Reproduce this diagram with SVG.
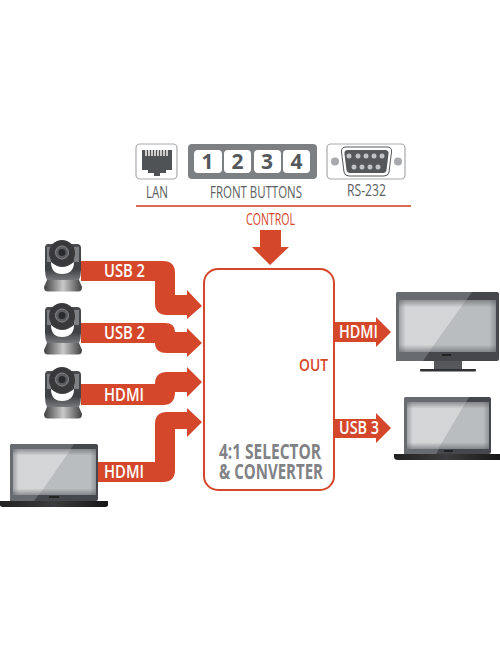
<svg xmlns="http://www.w3.org/2000/svg" width="500" height="650" viewBox="0 0 500 650">
<style>
text{font-family:"Open Sans","Liberation Sans",sans-serif}
.w{fill:#fff;font-size:18px;font-weight:600}
.g{fill:#5c5f62;font-size:17px}
.o{fill:#d4472a}
.tt{fill:#808285;font-size:21px;font-weight:700}
.fr{fill:#fff;stroke:#a7a9ac;stroke-width:1.2}
.b{fill:#fff}
.n{fill:#55585b;font-size:21px;font-weight:700;text-anchor:middle}
.bd{fill:#45474c}
.bl{fill:#686b70}
.sc{fill:#b9bdc0}
.gl{fill:#d3d5d7}
.vv{fill:url(#vv)}
.vh{fill:url(#vh)}
</style>
<defs>
<linearGradient id="vv" x1="0" y1="0" x2="0" y2="1"><stop offset="0" stop-color="#55585c" stop-opacity=".55"/><stop offset=".14" stop-color="#55585c" stop-opacity="0"/><stop offset=".86" stop-color="#55585c" stop-opacity="0"/><stop offset="1" stop-color="#55585c" stop-opacity=".55"/></linearGradient>
<linearGradient id="vh" x1="0" y1="0" x2="1" y2="0"><stop offset="0" stop-color="#55585c" stop-opacity=".4"/><stop offset=".07" stop-color="#55585c" stop-opacity="0"/><stop offset=".93" stop-color="#55585c" stop-opacity="0"/><stop offset="1" stop-color="#55585c" stop-opacity=".4"/></linearGradient>
<linearGradient id="kb" x1="0" y1="0" x2="1" y2="0"><stop offset="0" stop-color="#222"/><stop offset=".5" stop-color="#3c3c3e"/><stop offset="1" stop-color="#161616"/></linearGradient>
<linearGradient id="cb" x1="0" y1="0" x2="1" y2="0"><stop offset="0" stop-color="#3f3f41"/><stop offset=".5" stop-color="#c9c9c9"/><stop offset="1" stop-color="#3f3f41"/></linearGradient>
<linearGradient id="cy" x1="0" y1="0" x2="0" y2="1"><stop offset="0" stop-color="#4a4b4e"/><stop offset=".7" stop-color="#3f4043"/><stop offset="1" stop-color="#77787b"/></linearGradient>
<g id="cam">
<path d="M47 280H79L82 287Q82 291.500 78 291.500H48Q44 291.500 44 287Z" fill="url(#cb)"/>
<path d="M48 244H53V247H71V244H77Q81 244 81 248V270Q81 276 79 280H47Q45 276 45 270V248Q45 244 48 244Z" fill="url(#cy)"/>
<path d="M47 247H51V262H47ZM74 247H79V262H74Z" fill="#7d7f82"/>
<path d="M51 262Q62 272 74 262Q74 274 62 274Q51 274 51 262Z" fill="#fff"/>
<circle cx="62" cy="253" r="13" fill="#39393b"/>
<circle cx="62" cy="252.500" r="6.500" fill="#5b5c5f" stroke="#8a8b8d"/>
<circle cx="62" cy="252.500" r="3.500" fill="#2a2a2c"/>
</g>
</defs>

<g id="connectors" class="o">
<path id="c-control" d="M260 230H281V247H289L270 265L252 247H260Z"/>
<path id="c-usb2a" d="M81 261H163Q175 261 175 273V295H187V290L202 306L187 319V315H167Q155 315 155 303V281H81Z"/>
<path id="c-usb2b" d="M81 323H165Q175 323 175 332H187V328L202 343L187 357V353H167Q155 353 155 343H81Z"/>
<path id="c-hdmi3" d="M81 384H155Q155 372 167 372H187V367L202 382L187 397V392H175Q175 405 163 405H81Z"/>
<path id="c-hdmi4" d="M97 462H155V424Q155 412 167 412H187V408L202 422L187 437V429H175V470Q175 482 163 482H97Z"/>
<path id="c-out1" d="M334 322H376V317L391 332L376 347V342H334Z"/>
<path id="c-out2" d="M334 419H376V413L391 428L376 443V438H334Z"/>
</g>

<g id="control-rule"><rect x="136" y="205.200" width="275" height="1.600" class="o"/><text x="246" y="225" class="o" style="font-size:16px" textLength="49" lengthAdjust="spacingAndGlyphs">CONTROL</text></g>

<g id="lan">
<rect x="136" y="144" width="41" height="35" rx="4" class="fr"/>
<path d="M142 150H172V170H166V173H160V176H154V173H148V170H142Z" fill="#505356"/>
<path d="M146 150v6M149 150v6M152 150v6M155 150v6M158 150v6M161 150v6M164 150v6M167 150v6" stroke="#fff" stroke-width="1.400"/>
<text x="146" y="198" class="g" textLength="22" lengthAdjust="spacingAndGlyphs">LAN</text>
</g>

<g id="front-buttons">
<rect x="188" y="144" width="129" height="35" rx="4" fill="#7d8083"/>
<rect x="194" y="150" width="28" height="23" rx="4" class="b"/>
<rect x="224" y="150" width="27" height="23" rx="4" class="b"/>
<rect x="254" y="150" width="27" height="23" rx="4" class="b"/>
<rect x="283" y="150" width="27" height="23" rx="4" class="b"/>
<text x="207.500" y="169" class="n">1</text><text x="237.500" y="169" class="n">2</text><text x="267" y="169" class="n">3</text><text x="296.500" y="169" class="n">4</text>
<text x="210" y="198" class="g" textLength="92" lengthAdjust="spacingAndGlyphs">FRONT BUTTONS</text>
</g>

<g id="rs232">
<rect x="327" y="144" width="78" height="35" rx="4" class="fr"/>
<circle cx="335" cy="161.500" r="4" fill="#a7a9ac"/><circle cx="398" cy="161.500" r="4" fill="#a7a9ac"/>
<path d="M346 147H387Q392 147 391.500 152L389 172Q388.500 176 384 176H349Q344.500 176 344 172L341.500 152Q341 147 346 147Z" fill="#fff" stroke="#55585b"/>
<path d="M348 150H385Q389 150 388.500 154L386.500 170Q386 173 383 173H350Q347 173 346.500 170L344.500 154Q344 150 348 150Z" fill="#55585b"/>
<g fill="#c0c2c4"><circle cx="349" cy="156" r="2.500"/><circle cx="358" cy="156" r="2.500"/><circle cx="366" cy="156" r="2.500"/><circle cx="374" cy="156" r="2.500"/><circle cx="382" cy="156" r="2.500"/><circle cx="354" cy="167" r="2.500"/><circle cx="362" cy="167" r="2.500"/><circle cx="370" cy="167" r="2.500"/><circle cx="378" cy="167" r="2.500"/></g>
<text x="347" y="196" class="g" textLength="39" lengthAdjust="spacingAndGlyphs">RS-232</text>
</g>

<g id="camera1"><use href="#cam"/></g>
<g id="camera2"><use href="#cam" y="63"/></g>
<g id="camera3"><use href="#cam" y="127"/></g>

<g id="laptop-in">
<rect x="10" y="444" width="88" height="57" rx="2" class="bd"/>
<path d="M12 444H74L34 501H10V446Z" class="bl"/>
<rect x="13" y="449" width="83" height="46" class="sc"/>
<path d="M13 449H71L39 495H13Z" class="gl"/>
<rect x="13" y="449" width="83" height="46" class="vv"/>
<rect x="13" y="449" width="83" height="46" class="vh"/>
<rect x="49" y="496" width="10" height="2" fill="#222"/>
<path d="M0 501H108V505Q108 507 104 507H4Q0 507 0 505Z" fill="url(#kb)"/>
</g>

<g id="selector">
<rect x="204" y="269" width="130" height="221" rx="14" fill="#fff" stroke="#d4472a" stroke-width="2"/>
<text class="tt"><tspan x="219" y="459" textLength="102" lengthAdjust="spacingAndGlyphs">4:1 SELECTOR</tspan><tspan x="219" y="479" textLength="104" lengthAdjust="spacingAndGlyphs">&amp; CONVERTER</tspan></text>
<text x="299" y="371" class="o" style="font-size:16px;font-weight:600" textLength="29" lengthAdjust="spacingAndGlyphs">OUT</text>
</g>

<g id="labels">
<text x="104" y="277" class="w" textLength="41" lengthAdjust="spacingAndGlyphs">USB 2</text>
<text x="104" y="339" class="w" textLength="41" lengthAdjust="spacingAndGlyphs">USB 2</text>
<text x="104" y="401" class="w" textLength="40" lengthAdjust="spacingAndGlyphs">HDMI</text>
<text x="104" y="478" class="w" textLength="40" lengthAdjust="spacingAndGlyphs">HDMI</text>
<text x="339" y="338" class="w" textLength="39" lengthAdjust="spacingAndGlyphs">HDMI</text>
<text x="339" y="434" class="w" textLength="40" lengthAdjust="spacingAndGlyphs">USB 3</text>
</g>

<g id="monitor">
<rect x="434" y="361" width="28" height="8" fill="#55575b"/>
<rect x="420" y="369" width="56" height="2.500" rx="1" fill="#303133"/>
<rect x="396" y="292" width="103" height="69" rx="2" class="bd"/>
<path d="M398 292H472L423 361H396V294Z" class="bl"/>
<rect x="399" y="300" width="97" height="52" class="sc"/>
<path d="M399 300H466L429 352H399Z" class="gl"/>
<rect x="399" y="300" width="97" height="52" class="vv"/>
<rect x="399" y="300" width="97" height="52" class="vh"/>
<rect x="442" y="354" width="9" height="2" fill="#222"/>
</g>

<g id="laptop-out">
<rect x="404" y="397" width="87" height="57" rx="2" class="bd"/>
<path d="M406 397H469L436 454H404V399Z" class="bl"/>
<rect x="407" y="402" width="82" height="47" class="sc"/>
<path d="M407 402H466L438 449H407Z" class="gl"/>
<rect x="407" y="402" width="82" height="47" class="vv"/>
<rect x="407" y="402" width="82" height="47" class="vh"/>
<rect x="444" y="450" width="9" height="2" fill="#222"/>
<path d="M394 454H500V460H398Q394 460 394 457Z" fill="url(#kb)"/>
</g>
</svg>
